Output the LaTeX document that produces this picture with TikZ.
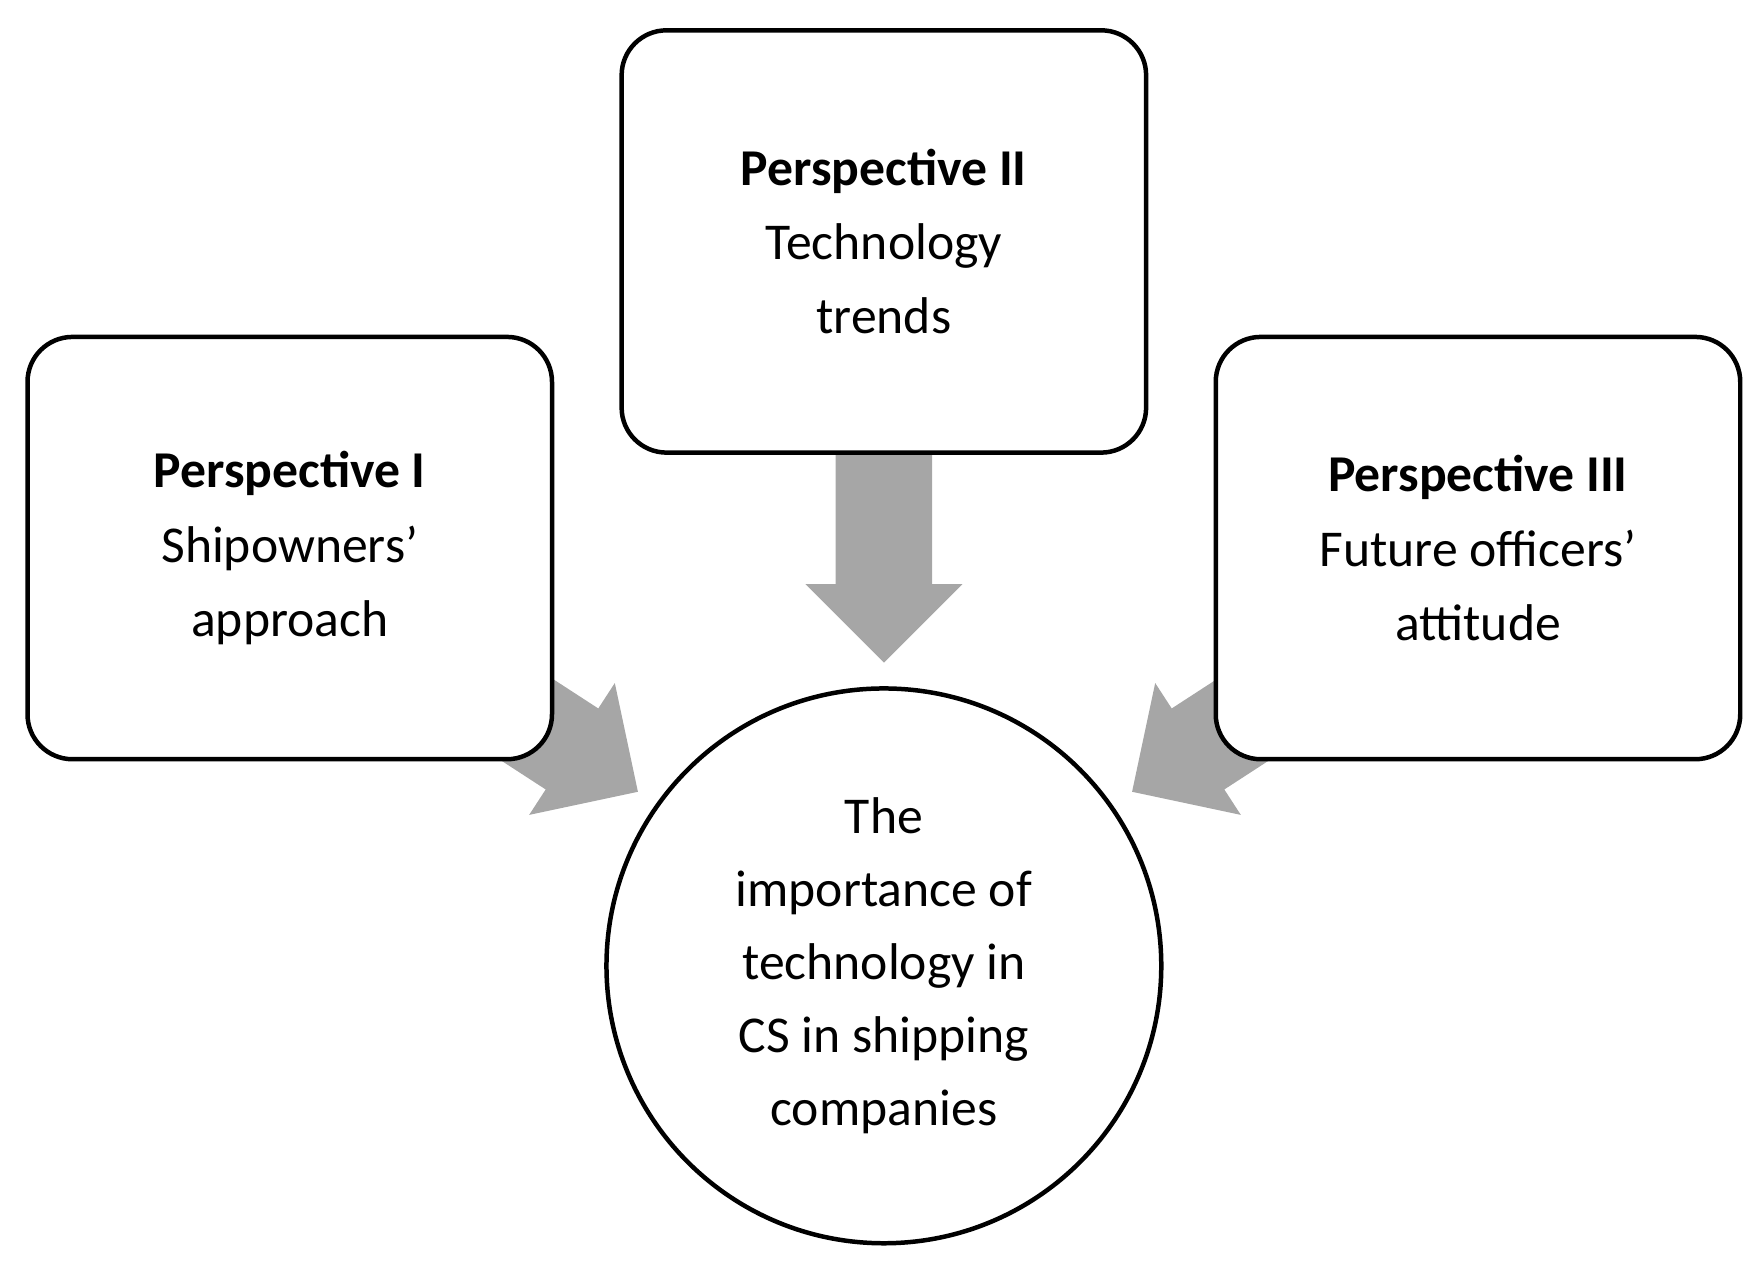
\documentclass[tikz,border=0pt]{standalone}
\usepackage{fontspec}
\setmainfont{Carlito}
\begin{document}
\begin{tikzpicture}[x=1pt,y=1pt,
  pbox/.style={draw=black,line width=4pt,rounded corners=40pt,fill=white,minimum width=467pt,minimum height=376pt,align=center,inner sep=0pt,font=\fontsize{46}{66}\selectfont},
  bigarrow/.style={fill=black!35}]
\useasboundingbox (0,0) rectangle (1568,-1123);
\newcommand{\blockarrow}{(0,0)--(-70,70)--(-70,43)--(-210,43)--(-210,-43)--(-70,-43)--(-70,-70)--cycle}
\fill[bigarrow,shift={(787,-590)},rotate=-90] \blockarrow;
\fill[bigarrow,shift={(568,-705)},rotate=-33] \blockarrow;
\fill[bigarrow,shift={(1008,-705)},rotate=213] \blockarrow;
\node[pbox] (p1) at (258,-488) {\textbf{Perspective I}\\Shipowners'\\approach};
\node[pbox] (p2) at (787,-215) {\textbf{Perspective II}\\Technology\\trends};
\node[pbox] (p3) at (1316,-488) {\textbf{Perspective III}\\Future officers'\\attitude};
\node[circle,draw=black,line width=4pt,fill=white,minimum size=494pt,inner sep=0pt,align=center,font=\fontsize{46}{65}\selectfont] (c) at (787,-860) {The\\importance of\\technology in\\CS in shipping\\companies};
\end{tikzpicture}
\end{document}
